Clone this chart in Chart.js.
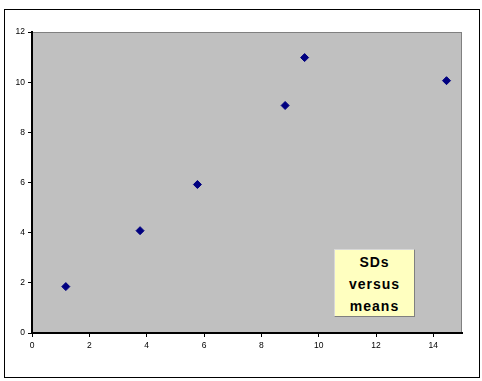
<!DOCTYPE html>
<html>
<head>
<meta charset="utf-8">
<script src="https://cdn.jsdelivr.net/npm/chart.js@4.4.1/dist/chart.umd.min.js"></script>
<style>
html,body{margin:0;padding:0;background:#fff;}
#wrap{position:relative;width:482px;height:381px;overflow:hidden;}
#frame{position:absolute;left:4px;top:9px;width:474px;height:367px;border:1px solid #000;box-sizing:content-box;pointer-events:none;}
canvas{position:absolute;left:0;top:0;}
#note{position:absolute;left:334px;top:249px;width:81px;height:68px;background:#FFFFC0;border:1px solid #d8d8d8;border-right-color:#808080;border-bottom-color:#808080;box-sizing:border-box;font-family:"Liberation Sans",Arial,sans-serif;font-weight:bold;font-size:14px;line-height:22px;text-align:center;letter-spacing:1px;padding-top:1px;color:#000;}
</style>
</head>
<body>
<div id="wrap">
<canvas id="c" width="482" height="381"></canvas>
<div id="frame"></div>
<div id="note">SDs<br>versus<br>means</div>
</div>
<script>
const means = [1.18, 3.77, 5.77, 8.83, 9.51, 14.46];
const sds   = [1.85, 4.08, 5.92, 9.07, 10.98, 10.06];
const xTicks = [0, 2, 4, 6, 8, 10, 12, 14];
const yTicks = [0, 2, 4, 6, 8, 10, 12];

const points = means.map((m, i) => ({x: m, y: sds[i]}));

const plotBg = {
  id: 'plotBg',
  beforeDraw(chart) {
    const {ctx, chartArea: a} = chart;
    ctx.save();
    ctx.fillStyle = '#C0C0C0';
    ctx.fillRect(a.left, a.top, a.right - a.left, a.bottom - a.top);
    ctx.strokeStyle = '#808080';
    ctx.lineWidth = 1;
    ctx.strokeRect(a.left + 0.5, a.top + 0.5, a.right - a.left - 1, a.bottom - a.top - 1);
    ctx.restore();
  }
};

const tickFont = {family: '"Liberation Sans", Arial, sans-serif', size: 8.5};

new Chart(document.getElementById('c'), {
  type: 'scatter',
  data: {
    datasets: [{
      data: points,
      pointStyle: 'rectRot',
      pointRadius: 4,
      pointHoverRadius: 4,
      backgroundColor: '#000080',
      borderColor: '#000080',
      borderWidth: 1
    }]
  },
  options: {
    responsive: false,
    animation: false,
    layout: {padding: {left: 0, top: 32, right: 20, bottom: 0}},
    plugins: {legend: {display: false}, tooltip: {enabled: false}},
    scales: {
      x: {
        type: 'linear',
        min: 0, max: 15,
        afterBuildTicks(s) { s.ticks = xTicks.map(v => ({value: v})); },
        afterFit(s) { s.height = 48; },
        ticks: {font: tickFont, color: '#000', padding: 4, maxRotation: 0},
        grid: {drawOnChartArea: false, tickLength: 4, color: '#000'},
        border: {color: '#000', width: 2}
      },
      y: {
        type: 'linear',
        min: 0, max: 12,
        afterBuildTicks(s) { s.ticks = yTicks.map(v => ({value: v})); },
        afterFit(s) { s.width = 32; },
        ticks: {font: tickFont, color: '#000', padding: 3},
        grid: {drawOnChartArea: false, tickLength: 4, color: '#000'},
        border: {color: '#000', width: 2}
      }
    }
  },
  plugins: [plotBg]
});
</script>
</body>
</html>
